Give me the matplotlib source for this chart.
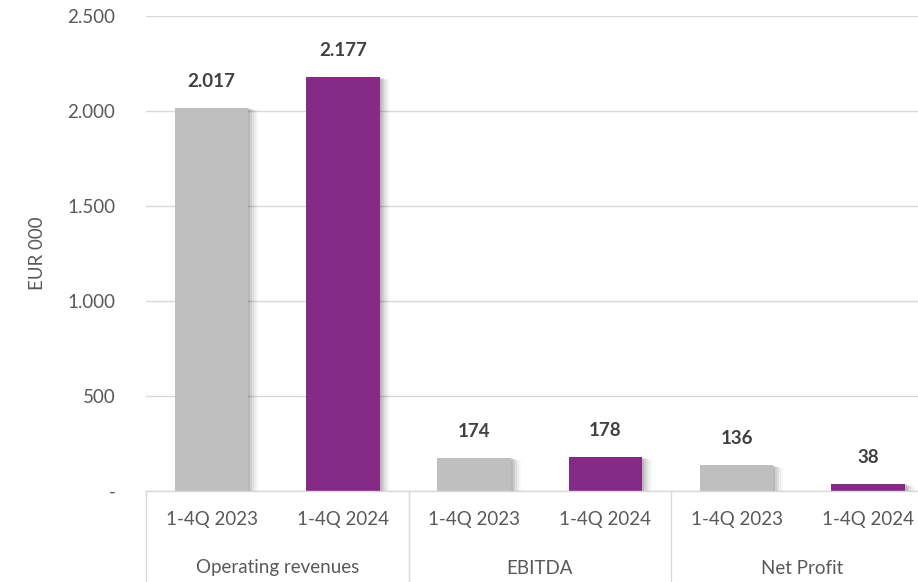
import matplotlib
matplotlib.use("Agg")
import matplotlib.pyplot as plt
from matplotlib.transforms import blended_transform_factory
import matplotlib.patches as mpatches

groups = ["Operating revenues", "EBITDA", "Net Profit"]
periods = ["1-4Q 2023", "1-4Q 2024"]
values_2023 = [2017, 174, 136]
values_2024 = [2177, 178, 38]
yticks = [0, 500, 1000, 1500, 2000, 2500]
ytick_labels = ["-", "500", "1.000", "1.500", "2.000", "2.500"]

colors = ["#BFBFBF", "#862A87"]
plt.rcParams['font.family'] = ['Lato', 'DejaVu Sans']
FS = 13.5

fig = plt.figure(figsize=(9.18, 5.82), dpi=100)
ax = fig.add_axes([0.159, 0.1564, 0.858, 0.8161])

positions, vals, cols, labels = [], [], [], []
for gi in range(len(groups)):
    for pi, series in enumerate([values_2023, values_2024]):
        positions.append(gi * 2 + pi)
        vals.append(series[gi])
        cols.append(colors[pi])
        labels.append(periods[pi])

width = 0.56
# soft shadows
for x, v in zip(positions, vals):
    for dx, dy, a in [(0.075, 14, 0.03), (0.06, 11, 0.04), (0.045, 8, 0.06), (0.03, 5, 0.08), (0.015, 2, 0.1)]:
        ax.add_patch(mpatches.Rectangle((x - width / 2 + dx, -dy), width, v, color="black",
                                        alpha=a, lw=0, zorder=2, clip_on=True))
ax.bar(positions, vals, width=width, color=cols, zorder=3)

for x, v in zip(positions, vals):
    lbl = f"{v:,}".replace(",", ".")
    ax.text(x, v + 95, lbl, ha="center", va="bottom", fontsize=FS, fontweight="bold", color="#404040", zorder=4)

ax.set_xlim(-0.5, 5.5)
ax.set_ylim(0, 2500)
ax.set_yticks(yticks)
ax.set_yticklabels(ytick_labels)
ax.tick_params(axis="y", length=0, pad=22, labelsize=FS, labelcolor="#595959")
ax.tick_params(axis="x", length=0)
ax.set_xticks([])
ax.yaxis.grid(True, color="#D9D9D9", lw=1, zorder=0)
ax.set_axisbelow(True)
for s in ["top", "right", "left"]:
    ax.spines[s].set_visible(False)
ax.spines["bottom"].set_color("#D9D9D9")
ax.spines["bottom"].set_linewidth(1)
ax.spines["bottom"].set_zorder(5)

ax.set_ylabel("EUR 000", fontsize=FS, color="#595959")
ax.yaxis.set_label_coords(-0.127, 0.5)

trans = blended_transform_factory(ax.transData, fig.transFigure)
for x, l in zip(positions, labels):
    ax.text(x, 1 - 520 / 582, l, transform=trans, ha="center", va="center", fontsize=FS, color="#595959", clip_on=False)
for gi, g in enumerate(groups):
    ax.text(gi * 2 + 0.5, 1 - 568 / 582, g, transform=trans, ha="center", va="center", fontsize=FS, color="#595959", clip_on=False)
for b in [-0.5, 1.5, 3.5, 5.5]:
    ax.plot([b, b], [1 - 491 / 582, 0], transform=trans, color="#D9D9D9", lw=1, clip_on=False)

fig.savefig("out.png", dpi=100)
